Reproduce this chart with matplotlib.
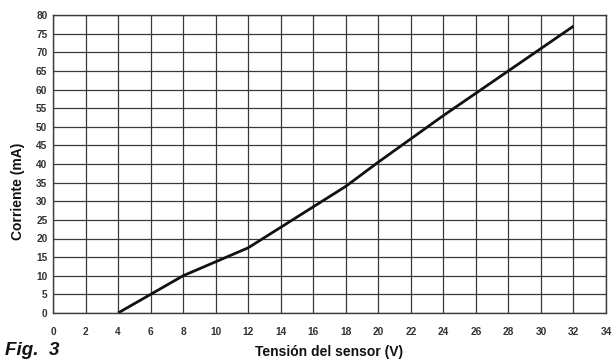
import matplotlib
matplotlib.use("Agg")
import matplotlib.pyplot as plt

voltage = [4, 8, 12, 18, 20, 24, 28, 32]
current = [0, 10, 17.5, 34, 40.5, 53, 65, 77]
xticks = list(range(0, 35, 2))
yticks = list(range(0, 81, 5))

plt.rcParams['font.family'] = ['Liberation Sans', 'DejaVu Sans']

fig = plt.figure(figsize=(6.13, 3.6), dpi=100)
ax = fig.add_axes([53/613, 1-313/360, (606-53)/613, (313-15)/360])
ax.set_xlim(0, 34)
ax.set_ylim(0, 80)
ax.set_xticks(xticks)
ax.set_yticks(yticks)
ax.grid(True, color='#3a3a3a', linewidth=0.9)
ax.set_axisbelow(True)
for s in ax.spines.values():
    s.set_color('#3a3a3a')
    s.set_linewidth(1.0)
ax.tick_params(length=0, labelsize=7.3, colors='#333333')
ax.tick_params(axis='x', pad=10)
ax.tick_params(axis='y', pad=4)
for lbl in ax.get_xticklabels() + ax.get_yticklabels():
    lbl.set_fontweight('bold')

ax.plot(voltage, current, color='#111111', linewidth=2.0, solid_capstyle='butt')

fig.text(329/613, 1-352/360, 'Tensión del sensor (V)', ha='center', va='center',
         fontsize=10, fontweight='bold', color='#111111')
fig.text(18/613, 1-191/360, 'Corriente (mA)', ha='center', va='center', rotation=90,
         fontsize=10, fontweight='bold', color='#111111')
fig.text(5/613, 1-355/360, 'Fig.  3', ha='left', va='baseline', fontsize=13.5,
         fontweight='bold', fontstyle='italic', color='#111111')

fig.savefig('out.png', dpi=100, facecolor='white')
